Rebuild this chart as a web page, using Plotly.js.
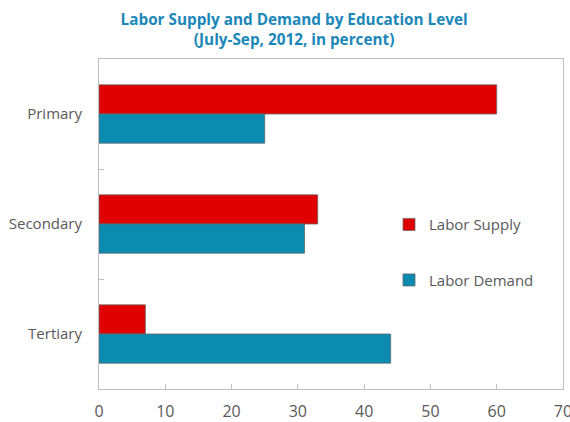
<!DOCTYPE html>
<html>
<head>
<meta charset="utf-8">
<script src="https://cdn.plot.ly/plotly-3.0.1.min.js"></script>
<style>html,body{margin:0;padding:0;background:#fff;}#chart{width:570px;height:422px;}</style>
</head>
<body>
<div id="chart"></div>
<script>
const categories = ["Primary", "Secondary", "Tertiary"];
const laborSupply = [60, 33, 7];
const laborDemand = [25, 31, 44];
const seriesNames = ["Labor Supply", "Labor Demand"];
const xTicks = [0, 10, 20, 30, 40, 50, 60, 70];

const traces = [
  {type: "bar", orientation: "h", name: seriesNames[0], y: categories, x: laborSupply,
   marker: {color: "#E00000", line: {color: "#6b6b6b", width: 0.8}}, legendgroup: "a"},
  {type: "bar", orientation: "h", name: seriesNames[1], y: categories, x: laborDemand,
   marker: {color: "#0A8BAF", line: {color: "#5a6a70", width: 0.8}}, legendgroup: "b"}
];

const layout = {
  width: 570, height: 422,
  margin: {l: 99, r: 7, t: 59, b: 33},
  paper_bgcolor: "#fff", plot_bgcolor: "#fff",
  font: {family: "Open Sans, sans-serif", size: 15, color: "#595959"},
  title: {
    text: "<b>Labor Supply and Demand by Education Level</b><br><b>(July-Sep, 2012, in percent)</b>",
    font: {family: "Open Sans, sans-serif", size: 15.3, color: "#1B87B9"},
    xref: "container", x: 0.516, xanchor: "center",
    yref: "container", y: 0.94, yanchor: "middle"
  },
  barmode: "group",
  bargap: 0.47, bargroupgap: 0,
  xaxis: {
    range: [0, 70], tickvals: xTicks, ticktext: xTicks.map(String),
    showgrid: false, zeroline: false,
    showline: true, linecolor: "#BFBFBF", linewidth: 1, mirror: true,
    ticks: "inside", ticklen: 5, tickcolor: "#BFBFBF",
    ticklabeloverflow: "allow",
    tickfont: {size: 16, color: "#595959"}, ticklabelstandoff: 8
  },
  yaxis: {
    autorange: "reversed", type: "category",
    showgrid: false, zeroline: false,
    showline: true, linecolor: "#BFBFBF", linewidth: 1, mirror: true,
    ticks: "inside", tickson: "boundaries", ticklen: 5, tickcolor: "#BFBFBF",
    tickfont: {size: 15, color: "#595959"}, ticklabelstandoff: 13
  },
  showlegend: true,
  legend: {
    x: 0.625, xanchor: "left", y: 0.548, yanchor: "top",
    traceorder: "grouped", tracegroupgap: 33,
    font: {size: 15, color: "#595959"}, bgcolor: "rgba(0,0,0,0)"
  }
};

Plotly.newPlot("chart", traces, layout, {displayModeBar: false, staticPlot: true});
</script>
</body>
</html>
